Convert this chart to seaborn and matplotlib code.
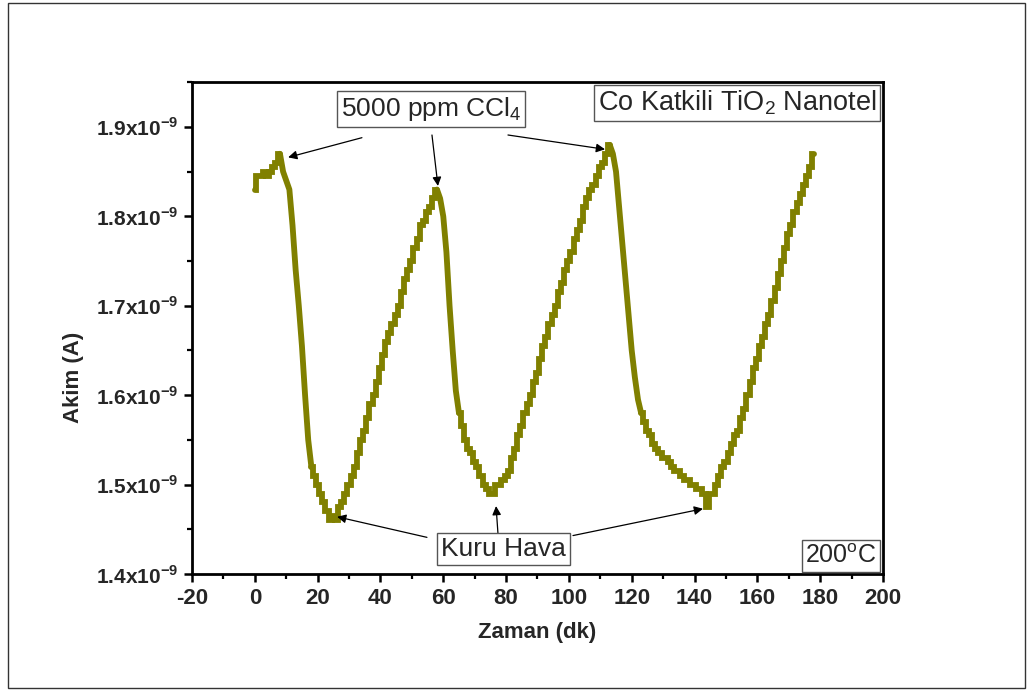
import numpy as np
import pandas as pd
import matplotlib
matplotlib.use("Agg")
import matplotlib.pyplot as plt
from matplotlib.patches import Rectangle
from matplotlib.offsetbox import AnchoredText
from matplotlib.ticker import MultipleLocator, FuncFormatter
import seaborn as sns

# Time (minutes) and measured current (nA) for three exposure cycles
zaman_dk = list(range(0, 179))
akim_nA = [
    1.830, 1.845, 1.845, 1.850, 1.845, 1.850, 1.855, 1.860, 1.870, 1.850,
    1.840, 1.830, 1.790, 1.740, 1.700, 1.655, 1.600, 1.550, 1.520, 1.510,
    1.500, 1.490, 1.480, 1.470, 1.460, 1.465, 1.460, 1.475, 1.480, 1.490,
    1.500, 1.510, 1.520, 1.535, 1.550, 1.560, 1.575, 1.590, 1.600, 1.615,
    1.630, 1.645, 1.660, 1.670, 1.680, 1.690, 1.700, 1.715, 1.730, 1.740,
    1.750, 1.765, 1.775, 1.790, 1.795, 1.805, 1.810, 1.820, 1.830, 1.820,
    1.800, 1.760, 1.700, 1.650, 1.605, 1.580, 1.565, 1.550, 1.540, 1.535,
    1.525, 1.520, 1.510, 1.500, 1.495, 1.490, 1.490, 1.500, 1.500, 1.505,
    1.510, 1.515, 1.530, 1.540, 1.555, 1.565, 1.580, 1.590, 1.600, 1.615,
    1.625, 1.640, 1.655, 1.665, 1.680, 1.690, 1.700, 1.715, 1.725, 1.740,
    1.750, 1.760, 1.775, 1.785, 1.795, 1.810, 1.820, 1.830, 1.835, 1.845,
    1.855, 1.860, 1.870, 1.880, 1.870, 1.850, 1.810, 1.770, 1.730, 1.690,
    1.650, 1.620, 1.595, 1.580, 1.570, 1.560, 1.555, 1.545, 1.540, 1.535,
    1.530, 1.530, 1.525, 1.520, 1.515, 1.515, 1.510, 1.505, 1.505, 1.500,
    1.500, 1.495, 1.495, 1.490, 1.475, 1.490, 1.490, 1.500, 1.510, 1.520,
    1.525, 1.535, 1.545, 1.555, 1.560, 1.575, 1.585, 1.600, 1.615, 1.630,
    1.640, 1.655, 1.665, 1.680, 1.690, 1.705, 1.720, 1.735, 1.750, 1.765,
    1.780, 1.790, 1.805, 1.815, 1.825, 1.835, 1.845, 1.855, 1.870,
]

# Fast-decay spans (start/end minute) where the logger output changes smoothly
hizli_dusus = [(8, 18), (58, 65), (113, 123)]

x_ticks = [-20, 0, 20, 40, 60, 80, 100, 120, 140, 160, 180, 200]
y_ticks_nA = [1.4, 1.5, 1.6, 1.7, 1.8, 1.9]

# Annotation labels and the marks they point at (x in min, y in nA)
gaz_label = "5000 ppm CCl$_{\\rm 4}$"
gaz_tails = [(34.1, 1.888), (56.4, 1.891), (80.6, 1.891)]
gaz_heads = [(10.6, 1.866), (58.3, 1.834), (111.5, 1.875)]
hava_label = "Kuru Hava"
hava_tails = [(54.8, 1.441), (77.4, 1.446), (101.3, 1.443)]
hava_heads = [(26.2, 1.464), (76.8, 1.476), (142.7, 1.473)]

df = pd.DataFrame({"Zaman": zaman_dk, "Akim": np.array(akim_nA) * 1e-9})

# split the record into smooth (fast decay) and stepped (quantised) pieces
smooth_parts, step_parts = [], []
start = zaman_dk[0]
for k, (a, b) in enumerate(hizli_dusus):
    step_parts.append(df[(df.Zaman >= start) & (df.Zaman <= a)].assign(parca=k))
    smooth_parts.append(df[(df.Zaman >= a) & (df.Zaman <= b)].assign(parca=k))
    start = b
step_parts.append(df[df.Zaman >= start].assign(parca=len(hizli_dusus)))
df_step = pd.concat(step_parts, ignore_index=True)
df_smooth = pd.concat(smooth_parts, ignore_index=True)

sns.set_theme(style="white")
plt.rcParams["font.family"] = ["Liberation Sans", "DejaVu Sans"]
plt.rcParams["mathtext.fontset"] = "custom"
plt.rcParams["mathtext.rm"] = "Liberation Sans"
plt.rcParams["mathtext.bf"] = "Liberation Sans:bold"
plt.rcParams["axes.unicode_minus"] = False

fig = plt.figure(figsize=(10.29, 6.93), dpi=100)
fig.patches.append(Rectangle((0.0078, 0.0072), 0.9883, 0.9885, transform=fig.transFigure,
                             fill=False, edgecolor="#333333", linewidth=1.0))
ax = fig.add_axes([0.1866, 0.1717, 0.6715, 0.7100])

line_color = "#808000"
sns.lineplot(data=df_step, x="Zaman", y="Akim", units="parca", estimator=None, ax=ax,
             color=line_color, linewidth=4.2, drawstyle="steps-mid",
             solid_joinstyle="miter")
sns.lineplot(data=df_smooth, x="Zaman", y="Akim", units="parca", estimator=None, ax=ax,
             color=line_color, linewidth=4.2, solid_capstyle="round")

ax.set_xlim(-20, 200)
ax.set_ylim(1.4e-9, 1.9503e-9)
ax.set_xticks(x_ticks)
ax.set_yticks([v * 1e-9 for v in y_ticks_nA])
ax.xaxis.set_minor_locator(MultipleLocator(10))
ax.yaxis.set_minor_locator(MultipleLocator(0.05e-9))
ax.yaxis.set_major_formatter(FuncFormatter(
    lambda v, p: f"{v * 1e9:.1f}x10$^{{\\mathbf{{-9}}}}$"))

for s in ax.spines.values():
    s.set_visible(True)
    s.set_color("black")
    s.set_linewidth(2.0)

ax.tick_params(axis="both", which="major", direction="out", length=6, width=1.8,
               color="black", pad=4, bottom=True, left=True)
ax.tick_params(axis="x", which="major", labelsize=16)
ax.tick_params(axis="y", which="major", labelsize=15)
ax.tick_params(axis="both", which="minor", direction="out", length=3.5, width=1.6,
               color="black", bottom=True, left=True)
for lab in ax.get_xticklabels() + ax.get_yticklabels():
    lab.set_fontweight("bold")

ax.set_xlabel("Zaman (dk)", fontsize=16, fontweight="bold")
ax.set_ylabel("Akim (A)", fontsize=16, fontweight="bold")
ax.xaxis.set_label_coords(0.5, -0.098)
ax.yaxis.set_label_coords(-0.157, 0.40)
ax.grid(False)

box = dict(boxstyle="square,pad=0.15", facecolor="white", edgecolor="#555555", linewidth=1.0)
arrow = dict(arrowstyle="-|>", color="black", lw=0.9, mutation_scale=13,
             shrinkA=0, shrinkB=0)

ax.text(56.1, 1.920e-9, gaz_label, fontsize=19, ha="center", va="center", bbox=box, zorder=5)
for (tx, ty), (hx, hy) in zip(gaz_tails, gaz_heads):
    ax.annotate("", xy=(hx, hy * 1e-9), xytext=(tx, ty * 1e-9), arrowprops=arrow, zorder=4)

ax.text(79.3, 1.428e-9, hava_label, fontsize=19, ha="center", va="center", bbox=box, zorder=5)
for (tx, ty), (hx, hy) in zip(hava_tails, hava_heads):
    ax.annotate("", xy=(hx, hy * 1e-9), xytext=(tx, ty * 1e-9), arrowprops=arrow, zorder=4)

for txt, loc, size in [("Co Katkili TiO$_{\\rm 2}$ Nanotel", "upper right", 19.5),
                       ("200$^{\\rm o}$C", "lower right", 18)]:
    at = AnchoredText(txt, loc=loc, prop=dict(size=size), frameon=True,
                      pad=0.15, borderpad=0.1)
    at.patch.set_edgecolor("#555555")
    at.patch.set_linewidth(1.0)
    at.zorder = 5
    ax.add_artist(at)

fig.savefig("out.png", dpi=100)
